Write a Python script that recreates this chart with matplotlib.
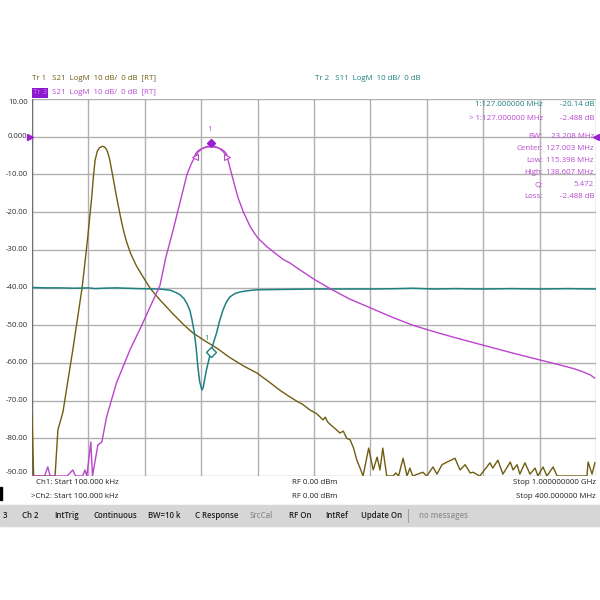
import matplotlib
matplotlib.use("Agg")
import matplotlib.pyplot as plt
from matplotlib.patches import Arc, Rectangle
import numpy as np

plt.rcParams['font.family'] = ['Open Sans', 'DejaVu Sans']

# --- Tr1: S21, channel 1 (0.1 MHz .. 1 GHz) ---
tr1_freq = [0.1, 3, 41, 46, 55, 64, 73, 81, 89, 95, 99, 103, 106, 109, 112, 116, 120, 124, 127,
            130, 133, 136, 138, 144, 150, 158, 163, 168, 175, 185, 197, 210, 227, 250, 270, 285, 305, 327,
            350, 375, 399, 420, 440, 457, 470, 480, 493, 505, 516, 520, 524, 530, 538, 546, 552,
            558, 564, 570, 576, 582, 587,
            597, 605, 612, 617, 622, 629, 640, 645, 650, 658, 665, 670, 675, 693, 700, 711,
            718, 727, 736, 750, 759, 768, 777, 782, 794, 812, 817, 826, 835, 848, 853, 860,
            865, 874, 883, 892, 897, 906, 913, 924, 931, 984, 986, 993, 998]
tr1_db = [-73.8, -90, -90, -77.8, -73, -64.5, -56, -48, -40, -32, -26.6, -20.5, -16, -10.5, -6.2, -3.8, -2.9, -2.6, -2.6,
          -2.9, -3.6, -5.0, -6.2, -11, -16, -22, -25.3, -28, -31, -34.2, -37.2, -40.3, -43.3, -47, -50, -52, -54, -56,
          -58.5, -60.8, -62.7, -65, -67.3, -69, -70.2, -71, -72.5, -73.5, -75.1, -74.4, -75.6, -76.5, -77.5, -78.6, -78.1,
          -80, -80.4, -82.5, -85.8, -88, -90,
          -82.6, -88.4, -85, -88.4, -82.6, -90, -90, -89.2, -90, -85.3, -90, -87.9, -90, -89, -90, -87.6,
          -89.5, -87, -86.3, -85.3, -88.4, -87, -89.2, -89, -90, -86.5, -87.9, -85.8, -89.5, -86.3, -88.4, -87,
          -89.5, -86.5, -89.5, -87.9, -90, -87.6, -90, -87.6, -90, -90, -86.3, -89.5, -86.5]

# --- Tr2: S11, channel 2 (0.1 MHz .. 400 MHz) ---
tr2_freq = [0.1, 10, 20, 30, 40, 45, 50, 60, 75, 90, 97.9, 102, 105, 108, 110, 112, 113.5, 115,
            116.5, 117.7, 119, 120.6, 121.5, 122.7, 124, 126, 128.5, 131, 133, 135.5, 138, 140.4,
            144, 147.5, 152, 159.6, 180, 200, 220, 240, 260, 270, 285, 300, 320, 340, 360, 380, 400]
tr2_db = [-40.0, -40.1, -40.1, -40.2, -40.1, -40.3, -40.2, -40.1, -40.3, -40.4, -40.7, -41.3, -41.9, -43.0, -44.3, -46, -48.5, -51.5,
          -56, -61, -65, -67.2, -66.5, -64, -61.5, -58.4, -55, -52, -49, -46, -43.8, -42.5,
          -41.6, -41.2, -40.9, -40.6, -40.5, -40.4, -40.4, -40.4, -40.3, -40.2, -40.4, -40.3, -40.4, -40.3, -40.4, -40.3, -40.4]

# --- Tr3: S21, channel 2 (0.1 MHz .. 400 MHz) ---
tr3_freq = [0.1, 2, 9, 11.3, 13, 25, 29, 31, 36, 37.6, 39, 41.8, 43, 46.8, 49.6, 53, 60, 69.5,
            78.7, 84, 90.8, 95, 100, 105, 110, 113, 115.4, 118, 121, 124, 127, 130, 133, 136,
            138.6, 141, 146, 150, 155, 160, 167, 178, 183, 190, 200, 211, 225, 240, 255, 270, 285,
            300, 320, 340, 360, 375, 385, 391, 396, 399]
tr3_db = [-90, -90, -90, -87.6, -90, -90, -88.4, -90, -90, -88.4, -90, -81, -90, -81.8, -81, -74.3, -65.3, -56.6,
          -49.4, -45, -39.5, -32, -25, -17.5, -10, -7.2, -5.5, -4.0, -3.1, -2.6, -2.49, -2.6, -3.1, -4.1,
          -5.5, -9.0, -16, -20, -24, -26.8, -29.3, -32.5, -33.5, -35.3, -37.8, -40.2, -43, -45.4, -47.8, -50, -51.7,
          -53.3, -55.3, -57.3, -59.2, -60.6, -61.6, -62.4, -63.2, -64]

y_ticks = [10, 0, -10, -20, -30, -40, -50, -60, -70, -80, -90]
y_labels = ["10.00", "0.000", "-10.00", "-20.00", "-30.00", "-40.00",
            "-50.00", "-60.00", "-70.00", "-80.00", "-90.00"]

mk_freq = 127.0
bw_low, bw_high = 115.398, 138.607
tr3_peak = -2.488

C_TR1 = '#6f5d12'
C_TR2 = '#1e8080'
C_TR3 = '#bb44cc'
C_TXT3 = '#b84ad0'

fig = plt.figure(figsize=(6, 6), dpi=100)
ax = fig.add_axes([32/600, 1 - 476/600, 564/600, 377/600])
ax2 = ax.twiny()

ax.set_xlim(0.1, 1000)
ax2.set_xlim(0.1, 400)
ax.set_ylim(-90, 10)

for a in (ax, ax2):
    a.set_xticks([])
    a.set_yticks([])
    for s in a.spines.values():
        s.set_visible(False)

# grid
for gx in np.arange(0, 1001, 100):
    ax.axvline(gx, color='#b0b0b0', lw=1.0, zorder=0)
for gy in y_ticks:
    ax.axhline(gy, color='#b0b0b0', lw=1.0, zorder=0)
ax.axvline(0.1, color='#707070', lw=1.0, zorder=0)

for gy, lab in zip(y_ticks, y_labels):
    va = 'center'
    if gy == 10:
        va = 'top'
    elif gy == -90:
        va = 'bottom'
    ax.text(-0.008, gy, lab, transform=ax.get_yaxis_transform(), ha='right', va=va,
            fontsize=5.6, color='#303030')

# traces
ax.plot(tr1_freq, tr1_db, color=C_TR1, lw=1.0, zorder=3)
ax2.plot(tr2_freq, tr2_db, color=C_TR2, lw=1.1, zorder=3)
ax2.plot(tr3_freq, tr3_db, color=C_TR3, lw=1.0, zorder=3)

# Tr2 marker
mk2_y = np.interp(mk_freq, tr2_freq, tr2_db)
ax2.plot([mk_freq], [mk2_y], marker='D', ms=5, mfc='white', mec=C_TR2, mew=1.0, zorder=5)
ax2.text(mk_freq - 3, mk2_y + 3.5, "1", color=C_TR2, fontsize=5.5, ha='center', va='center')

# Tr3 marker + bandwidth arc
ax2.plot([mk_freq], [tr3_peak + 0.8], marker='D', ms=4.5, color='#9a1fd0', zorder=6)
ax2.text(mk_freq - 1, tr3_peak + 4.3, "1", color=C_TXT3, fontsize=5.5, ha='center', va='center')
ax2.add_patch(Arc(((bw_low + bw_high) / 2, tr3_peak - 3), bw_high - bw_low, 5.6,
                  theta1=0, theta2=180, color=C_TR3, lw=0.9, zorder=5))
ax2.plot([bw_low], [tr3_peak - 3], marker='<', ms=4, mfc='white', mec=C_TR3, mew=0.8, zorder=6)
ax2.plot([bw_high], [tr3_peak - 3], marker='>', ms=4, mfc='white', mec=C_TR3, mew=0.8, zorder=6)

# reference-level arrows
ax.plot([-0.004], [0], marker='>', ms=4, color='#9a1fd0', transform=ax.get_yaxis_transform(), clip_on=False)
ax.plot([1.0], [0], marker='<', ms=4, color='#9a1fd0', transform=ax.get_yaxis_transform(), clip_on=False)

# header
fs = 5.7
fig.text(32/600, 1 - 79/600, "Tr 1   S21  LogM  10 dB/  0 dB  [RT]", color=C_TR1, fontsize=fs, va='center')
fig.text(33/600, 1 - 93/600, "Tr 3", color='#d070e0', fontsize=fs, va='center',
         bbox=dict(boxstyle='square,pad=0.15', fc='#8c18d0', ec='none'))
fig.text(52/600, 1 - 93/600, "S21  LogM  10 dB/  0 dB  [RT]", color=C_TXT3, fontsize=fs, va='center')
fig.text(315/600, 1 - 79/600, "Tr 2   S11  LogM  10 dB/  0 dB", color=C_TR2, fontsize=fs, va='center')

# marker readouts
rows = [("1:127.000000 MHz", "-20.14 dB", C_TR2, 105),
        ("> 1:127.000000 MHz", "-2.488 dB", C_TXT3, 118),
        ("BW:", "23.208 MHz", C_TXT3, 137),
        ("Center:", "127.003 MHz", C_TXT3, 149),
        ("Low:", "115.398 MHz", C_TXT3, 161),
        ("High:", "138.607 MHz", C_TXT3, 173),
        ("Q:", "5.472", C_TXT3, 185),
        ("Loss:", "-2.488 dB", C_TXT3, 197)]
for lab, val, col, py in rows:
    fig.text(543/600, 1 - py/600, lab, color=col, fontsize=fs, ha='right', va='center')
    fig.text(594/600, 1 - py/600, val, color=col, fontsize=fs, ha='right', va='center')

# footer
fig.text(36/600, 1 - 483/600, "Ch1: Start 100.000 kHz", color='#202020', fontsize=fs, va='center')
fig.text(31/600, 1 - 496/600, ">Ch2: Start 100.000 kHz", color='#202020', fontsize=fs, va='center')
fig.text(292/600, 1 - 483/600, "RF 0.00 dBm", color='#202020', fontsize=fs, va='center')
fig.text(292/600, 1 - 496/600, "RF 0.00 dBm", color='#202020', fontsize=fs, va='center')
fig.text(596/600, 1 - 483/600, "Stop 1.000000000 GHz", color='#202020', fontsize=fs, ha='right', va='center')
fig.text(596/600, 1 - 496/600, "Stop 400.000000 MHz", color='#202020', fontsize=fs, ha='right', va='center')
fig.patches.append(Rectangle((0, 1 - 500/600), 2/600, 13/600, transform=fig.transFigure, color='black'))

# status bar
fig.patches.append(Rectangle((0, 1 - 526/600), 1, 21/600, transform=fig.transFigure, color='#d6d6d6', zorder=0))
status = [("3", 3, '#202020'), ("Ch 2", 22, '#202020'), ("IntTrig", 54, '#202020'),
          ("Continuous", 93, '#202020'), ("BW=10 k", 148, '#202020'), ("C Response", 195, '#202020'),
          ("SrcCal", 250, '#909090'), ("RF On", 289, '#202020'), ("IntRef", 325, '#202020'),
          ("Update On", 361, '#202020'), ("no messages", 419, '#909090')]
for txt, px, col in status:
    fig.text(px/600, 1 - 516/600, txt, color=col, fontsize=fs, va='center', fontweight='semibold')
fig.lines.append(plt.Line2D([408/600, 408/600], [1 - 522/600, 1 - 509/600], transform=fig.transFigure,
                            color='#a0a0a0', lw=0.8))

fig.savefig("out.png", dpi=100)
